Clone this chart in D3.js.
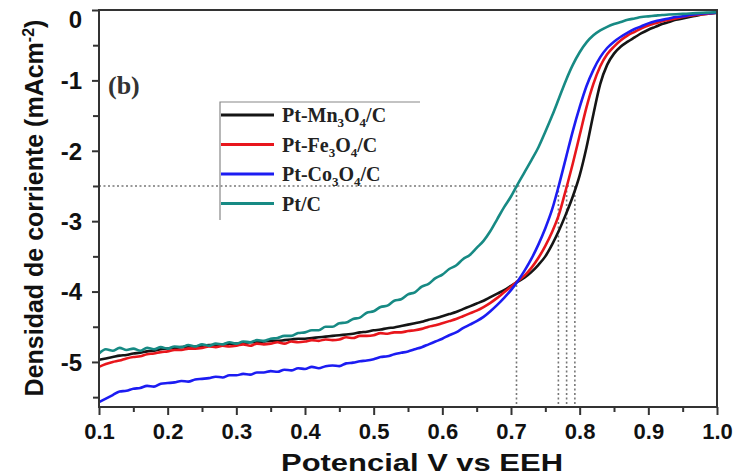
<!DOCTYPE html>
<html>
<head>
<meta charset="utf-8">
<script src="https://cdn.jsdelivr.net/npm/d3@7"></script>
<style>
  body { margin: 0; background: #fff; }
  text { font-family: "Liberation Sans", Arial, sans-serif; }
</style>
</head>
<body>
<div id="chart"></div>
<script>
// potential grid (V vs EEH)
var potentials = [0.10, 0.11, 0.12, 0.13, 0.14, 0.15, 0.16, 0.17, 0.18, 0.19,
  0.20, 0.21, 0.22, 0.23, 0.24, 0.25, 0.26, 0.27, 0.28, 0.29,
  0.30, 0.31, 0.32, 0.33, 0.34, 0.35, 0.36, 0.37, 0.38, 0.39,
  0.40, 0.41, 0.42, 0.43, 0.44, 0.45, 0.46, 0.47, 0.48, 0.49,
  0.50, 0.51, 0.52, 0.53, 0.54, 0.55, 0.56, 0.57, 0.58, 0.59,
  0.60, 0.61, 0.62, 0.63, 0.64, 0.65, 0.66, 0.67, 0.68, 0.69,
  0.70, 0.71, 0.72, 0.73, 0.74, 0.75, 0.76, 0.77, 0.78, 0.79,
  0.80, 0.81, 0.82, 0.83, 0.84, 0.85, 0.86, 0.87, 0.88, 0.89,
  0.90, 0.91, 0.92, 0.93, 0.94, 0.95, 0.96, 0.97, 0.98, 0.99, 1.00];

var mn3o4 = [-4.97, -4.95, -4.93, -4.91, -4.90, -4.88, -4.87, -4.85, -4.84, -4.82,
  -4.81, -4.80, -4.79, -4.78, -4.78, -4.77, -4.76, -4.76, -4.75, -4.74,
  -4.74, -4.73, -4.72, -4.72, -4.71, -4.70, -4.70, -4.69, -4.68, -4.67,
  -4.67, -4.66, -4.65, -4.64, -4.63, -4.62, -4.61, -4.60, -4.58, -4.57,
  -4.55, -4.54, -4.52, -4.51, -4.49, -4.47, -4.45, -4.43, -4.40, -4.38,
  -4.35, -4.32, -4.29, -4.25, -4.21, -4.17, -4.13, -4.08, -4.03, -3.98,
  -3.92, -3.86, -3.80, -3.72, -3.62, -3.50, -3.33, -3.13, -2.90, -2.65,
  -2.35, -1.95, -1.48, -1.05, -0.78, -0.62, -0.52, -0.45, -0.39, -0.33,
  -0.28, -0.24, -0.20, -0.17, -0.14, -0.12, -0.10, -0.08, -0.06, -0.05, -0.04];

var fe3o4 = [-5.07, -5.03, -5.00, -4.98, -4.95, -4.93, -4.92, -4.89, -4.88, -4.86,
  -4.85, -4.83, -4.83, -4.81, -4.81, -4.80, -4.78, -4.79, -4.77, -4.78,
  -4.77, -4.75, -4.77, -4.74, -4.75, -4.74, -4.72, -4.74, -4.71, -4.72,
  -4.71, -4.69, -4.70, -4.68, -4.69, -4.68, -4.65, -4.66, -4.63, -4.63,
  -4.62, -4.59, -4.60, -4.58, -4.58, -4.56, -4.55, -4.53, -4.50, -4.48,
  -4.45, -4.42, -4.39, -4.35, -4.31, -4.27, -4.22, -4.16, -4.09, -4.01,
  -3.93, -3.85, -3.77, -3.66, -3.52, -3.35, -3.15, -2.90, -2.55, -2.18,
  -1.78, -1.38, -1.05, -0.80, -0.63, -0.52, -0.43, -0.36, -0.31, -0.26,
  -0.22, -0.19, -0.16, -0.14, -0.12, -0.10, -0.08, -0.07, -0.06, -0.05, -0.04];

var co3o4 = [-5.57, -5.52, -5.47, -5.42, -5.41, -5.38, -5.37, -5.34, -5.35, -5.31,
  -5.30, -5.29, -5.27, -5.28, -5.25, -5.24, -5.23, -5.21, -5.22, -5.19,
  -5.19, -5.17, -5.18, -5.15, -5.15, -5.13, -5.14, -5.11, -5.12, -5.09,
  -5.10, -5.07, -5.09, -5.06, -5.05, -5.06, -5.02, -5.01, -4.99, -4.98,
  -4.96, -4.93, -4.92, -4.89, -4.87, -4.85, -4.82, -4.79, -4.75, -4.71,
  -4.67, -4.62, -4.58, -4.52, -4.47, -4.42, -4.36, -4.28, -4.19, -4.09,
  -3.98, -3.85, -3.70, -3.53, -3.33, -3.10, -2.83, -2.48, -2.10, -1.72,
  -1.38, -1.08, -0.85, -0.67, -0.54, -0.45, -0.38, -0.32, -0.27, -0.23,
  -0.19, -0.16, -0.14, -0.12, -0.10, -0.09, -0.07, -0.06, -0.05, -0.045, -0.04];

var ptc = [-4.88, -4.82, -4.84, -4.80, -4.83, -4.81, -4.84, -4.80, -4.82, -4.79,
  -4.81, -4.78, -4.79, -4.76, -4.78, -4.75, -4.77, -4.74, -4.75, -4.72,
  -4.74, -4.71, -4.72, -4.69, -4.70, -4.67, -4.66, -4.63, -4.63, -4.59,
  -4.58, -4.55, -4.55, -4.50, -4.50, -4.45, -4.44, -4.39, -4.37, -4.30,
  -4.28, -4.22, -4.20, -4.13, -4.11, -4.04, -4.01, -3.93, -3.89, -3.81,
  -3.76, -3.68, -3.63, -3.54, -3.48, -3.38, -3.28, -3.14, -2.97, -2.80,
  -2.65, -2.47, -2.30, -2.13, -1.95, -1.73, -1.50, -1.25, -1.00, -0.78,
  -0.60, -0.46, -0.36, -0.29, -0.24, -0.20, -0.17, -0.14, -0.12, -0.10,
  -0.09, -0.08, -0.07, -0.065, -0.06, -0.055, -0.05, -0.045, -0.04, -0.035, -0.03];

// legend labels: [text, subscript, text, subscript, text]
var seriesNames = [
  ["Pt-Mn", "3", "O", "4", "/C"],
  ["Pt-Fe", "3", "O", "4", "/C"],
  ["Pt-Co", "3", "O", "4", "/C"],
  ["Pt/C"]
];
var seriesValues = [mn3o4, fe3o4, co3o4, ptc];
var colors = ["#151515", "#e8161c", "#1c1cf2", "#178a84"];

// half-wave potentials at -2.5 mA cm-2 (dotted guides)
var halfWaveJ = -2.5;
var halfWaveV = [0.708, 0.769, 0.781, 0.793];

var xMajor = [0.1, 0.2, 0.3, 0.4, 0.5, 0.6, 0.7, 0.8, 0.9, 1.0];
var xMinor = [0.15, 0.25, 0.35, 0.45, 0.55, 0.65, 0.75, 0.85, 0.95];
var yMajor = [0, -1, -2, -3, -4, -5];
var yMinor = [-0.5, -1.5, -2.5, -3.5, -4.5, -5.5];

var width = 738, height = 476;
var plotLeft = 99, plotRight = 717, plotTop = 10, plotBottom = 407;

var x = d3.scaleLinear().domain([0.1, 1.0]).range([plotLeft, plotRight]);
var y = d3.scaleLinear().domain([-5.64, 0]).range([plotBottom, plotTop]);

var svg = d3.select('#chart')
  .append('svg')
    .attr('width', width)
    .attr('height', height);

// dotted guides
var guides = svg.append('g')
    .attr('stroke', '#777')
    .attr('stroke-width', 1.6)
    .attr('stroke-dasharray', '2,2.5')
    .attr('fill', 'none');
guides.append('line')
    .attr('x1', plotLeft).attr('x2', x(d3.max(halfWaveV)))
    .attr('y1', y(halfWaveJ)).attr('y2', y(halfWaveJ));
guides.selectAll('line.v')
    .data(halfWaveV)
  .enter()
    .append('line')
    .attr('class', 'v')
    .attr('x1', function(d) { return x(d); })
    .attr('x2', function(d) { return x(d); })
    .attr('y1', y(halfWaveJ))
    .attr('y2', plotBottom);

// curves
var line = d3.line()
    .x(function(d) { return x(d[0]); })
    .y(function(d) { return y(d[1]); })
    .curve(d3.curveMonotoneX);

svg.append('g')
    .selectAll('path')
    .data(seriesValues)
  .enter()
    .append('path')
    .attr('fill', 'none')
    .attr('stroke', function(d, i) { return colors[i]; })
    .attr('stroke-width', 2.6)
    .attr('stroke-linejoin', 'round')
    .attr('d', function(vals) {
        return line(vals.map(function(v, i) { return [potentials[i], v]; }));
    });

// frame
svg.append('rect')
    .attr('x', plotLeft).attr('y', plotTop)
    .attr('width', plotRight - plotLeft).attr('height', plotBottom - plotTop)
    .attr('fill', 'none')
    .attr('stroke', '#333')
    .attr('stroke-width', 2);

// axes
function styleAxis(size) {
    return function(g) {
        g.select('.domain').remove();
        g.selectAll('.tick line').attr('stroke', '#333').attr('stroke-width', 2);
        g.selectAll('.tick text')
            .attr('fill', '#111')
            .style('font-weight', 'bold')
            .style('font-size', size + 'px')
            .style('font-family', '"Liberation Sans", Arial, sans-serif');
    };
}

svg.append('g')
    .attr('transform', 'translate(0,' + plotBottom + ')')
    .call(d3.axisBottom(x).tickValues(xMajor).tickSize(8).tickPadding(8)
        .tickFormat(d3.format('.1f')))
    .call(styleAxis(22));
svg.append('g')
    .attr('transform', 'translate(0,' + plotBottom + ')')
    .call(d3.axisBottom(x).tickValues(xMinor).tickSize(5).tickFormat(''))
    .call(styleAxis(22));

var yAxisG = svg.append('g')
    .attr('transform', 'translate(' + plotLeft + ',0)')
    .call(d3.axisLeft(y).tickValues(yMajor).tickSize(7).tickPadding(10)
        .tickFormat(function(d) { return d === 0 ? '0' : '-' + Math.abs(d); }))
    .call(styleAxis(24));
yAxisG.selectAll('.tick text')
    .attr('dy', function(d) { return d === 0 ? '0.72em' : '0.35em'; });
svg.append('g')
    .attr('transform', 'translate(' + plotLeft + ',0)')
    .call(d3.axisLeft(y).tickValues(yMinor).tickSize(6).tickFormat(''))
    .call(styleAxis(24));

// axis titles
svg.append('text')
    .attr('x', 422)
    .attr('y', 471)
    .attr('text-anchor', 'middle')
    .attr('textLength', 282)
    .attr('lengthAdjust', 'spacingAndGlyphs')
    .style('font-weight', 'bold')
    .style('font-size', '24px')
    .attr('fill', '#111')
    .text('Potencial V vs EEH');

var yTitle = svg.append('text')
    .attr('transform', 'translate(43,208) rotate(-90)')
    .attr('text-anchor', 'middle')
    .style('font-weight', 'bold')
    .style('font-size', '25px')
    .attr('fill', '#111');
yTitle.append('tspan').text('Densidad de corriente (mAcm');
yTitle.append('tspan').attr('dy', -9).style('font-size', '16px').text('-2');
yTitle.append('tspan').attr('dy', 9).text(')');

// panel tag
svg.append('text')
    .attr('x', 108)
    .attr('y', 94)
    .style('font-family', '"Liberation Serif", "Times New Roman", serif')
    .style('font-weight', 'bold')
    .style('font-size', '26px')
    .attr('fill', '#333')
    .text('(b)');

// legend
var legend = svg.append('g').attr('transform', 'translate(220,102)');
legend.append('path')
    .attr('d', 'M0,118V0H200')
    .attr('fill', 'none')
    .attr('stroke', '#888')
    .attr('stroke-width', 1.2);

var rows = legend.selectAll('g.row')
    .data(seriesNames)
  .enter()
    .append('g')
    .attr('class', 'row')
    .attr('transform', function(d, i) { return 'translate(0,' + (13 + i * 29.5) + ')'; });
rows.append('line')
    .attr('x1', 1).attr('x2', 54)
    .attr('stroke', function(d, i) { return colors[i]; })
    .attr('stroke-width', 2.8);
var labels = rows.append('text')
    .attr('x', 62)
    .attr('y', 7)
    .style('font-family', '"Liberation Serif", "Times New Roman", serif')
    .style('font-weight', 'bold')
    .style('font-size', '20px')
    .attr('fill', '#222');
labels.each(function(parts) {
    var t = d3.select(this);
    parts.forEach(function(p, k) {
        var sub = k % 2 === 1;
        var ts = t.append('tspan').text(p);
        if(sub) {
            ts.attr('dy', 5).style('font-size', '13px');
        }
        else if(k > 0) {
            ts.attr('dy', -5);
        }
    });
});
</script>
</body>
</html>
